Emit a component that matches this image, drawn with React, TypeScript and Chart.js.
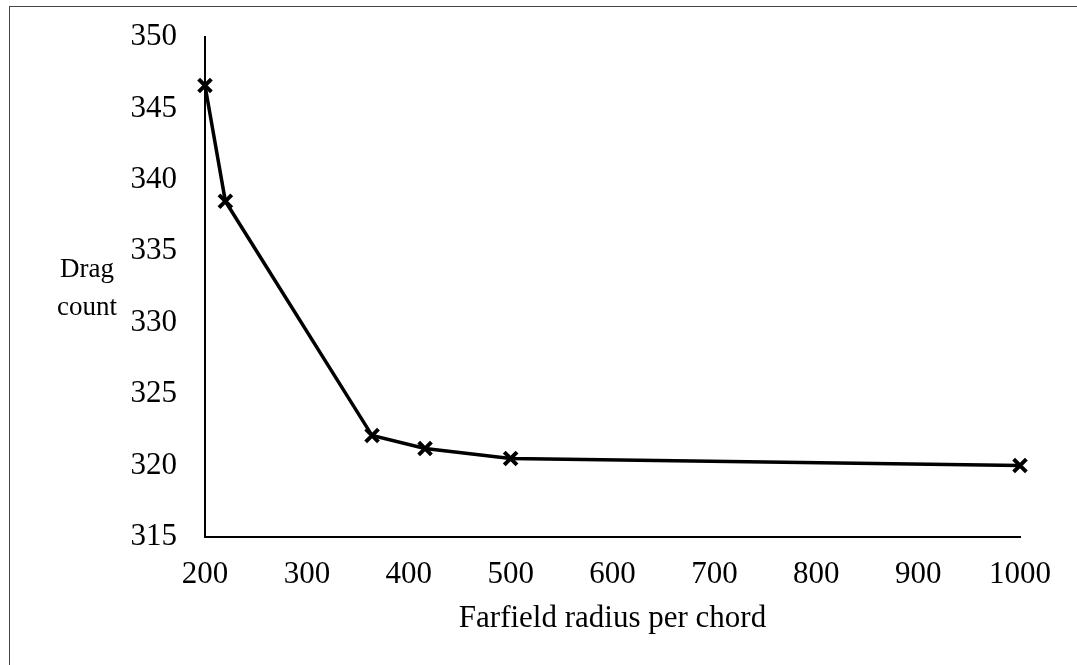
import React, { useEffect, useRef } from "react";
import { Chart, registerables } from "chart.js";

Chart.register(...registerables);

const radiusPerChord = [200, 220, 364, 416, 500, 1000];
const dragCount = [346.6, 338.5, 322.1, 321.2, 320.5, 320.0];
const xTitle = "Farfield radius per chord";
const yTitleLines = ["Drag", "count"];

const FONT = "'Liberation Serif', 'Times New Roman', serif";

const yTitlePlugin = {
  id: "yTitle",
  afterDraw(chart: any) {
    const ctx = chart.ctx;
    ctx.save();
    ctx.font = `27px ${FONT}`;
    ctx.fillStyle = "#000";
    ctx.textAlign = "center";
    ctx.textBaseline = "alphabetic";
    const cx = 87;
    ctx.fillText(yTitleLines[0], cx, 277);
    ctx.fillText(yTitleLines[1], cx, 315);
    ctx.restore();
  },
};

export default function App() {
  const ref = useRef<HTMLCanvasElement>(null);

  useEffect(() => {
    if (!ref.current) return;
    const chart = new Chart(ref.current, {
      type: "scatter",
      data: {
        datasets: [
          {
            data: radiusPerChord.map((x, i) => ({ x, y: dragCount[i] })),
            showLine: true,
            borderColor: "#000",
            backgroundColor: "#000",
            borderWidth: 3.5,
            pointStyle: "crossRot",
            pointRadius: 9,
            pointBorderWidth: 4,
            pointBorderColor: "#000",
            clip: false as any,
          },
        ],
      },
      options: {
        animation: false,
        responsive: false,
        maintainAspectRatio: false,
        layout: { padding: { left: 0, top: 37, right: 57, bottom: 0 } },
        plugins: { legend: { display: false }, tooltip: { enabled: false } },
        scales: {
          x: {
            type: "linear",
            min: 200,
            max: 1000,
            afterFit(scale: any) {
              scale.height = 128;
              scale.paddingLeft = 0;
              scale.paddingRight = 0;
            },
            ticks: {
              stepSize: 100,
              padding: 19,
              color: "#000",
              maxRotation: 0,
              font: { family: FONT, size: 31 },
              callback: (v: any) => String(v),
            },
            grid: { display: true, color: "transparent", drawTicks: false },
            border: { display: true, color: "#000", width: 2 },
            title: {
              display: true,
              text: xTitle,
              color: "#000",
              font: { family: FONT, size: 31 },
              padding: { top: 0, bottom: 28 },
            },
          },
          y: {
            type: "linear",
            min: 315,
            max: 350,
            afterFit(scale: any) {
              scale.width = 205;
              scale.paddingTop = 0;
              scale.paddingBottom = 0;
            },
            ticks: {
              stepSize: 5,
              padding: 28,
              color: "#000",
              font: { family: FONT, size: 31 },
            },
            grid: { display: true, color: "transparent", drawTicks: false },
            border: { display: true, color: "#000", width: 2 },
          },
        },
      },
      plugins: [yTitlePlugin],
    });
    return () => chart.destroy();
  }, []);

  return (
    <div
      style={{
        position: "fixed",
        left: 0,
        top: 0,
        width: 1077,
        height: 665,
        background: "#fff",
        overflow: "hidden",
      }}
    >
      <div
        style={{
          position: "absolute",
          left: 9,
          top: 6,
          width: 1100,
          height: 700,
          borderLeft: "1px solid #444",
          borderTop: "1px solid #444",
          boxSizing: "border-box",
        }}
      />
      <canvas
        ref={ref}
        width={1077}
        height={665}
        style={{ position: "absolute", left: 0, top: 0 }}
      />
    </div>
  );
}
